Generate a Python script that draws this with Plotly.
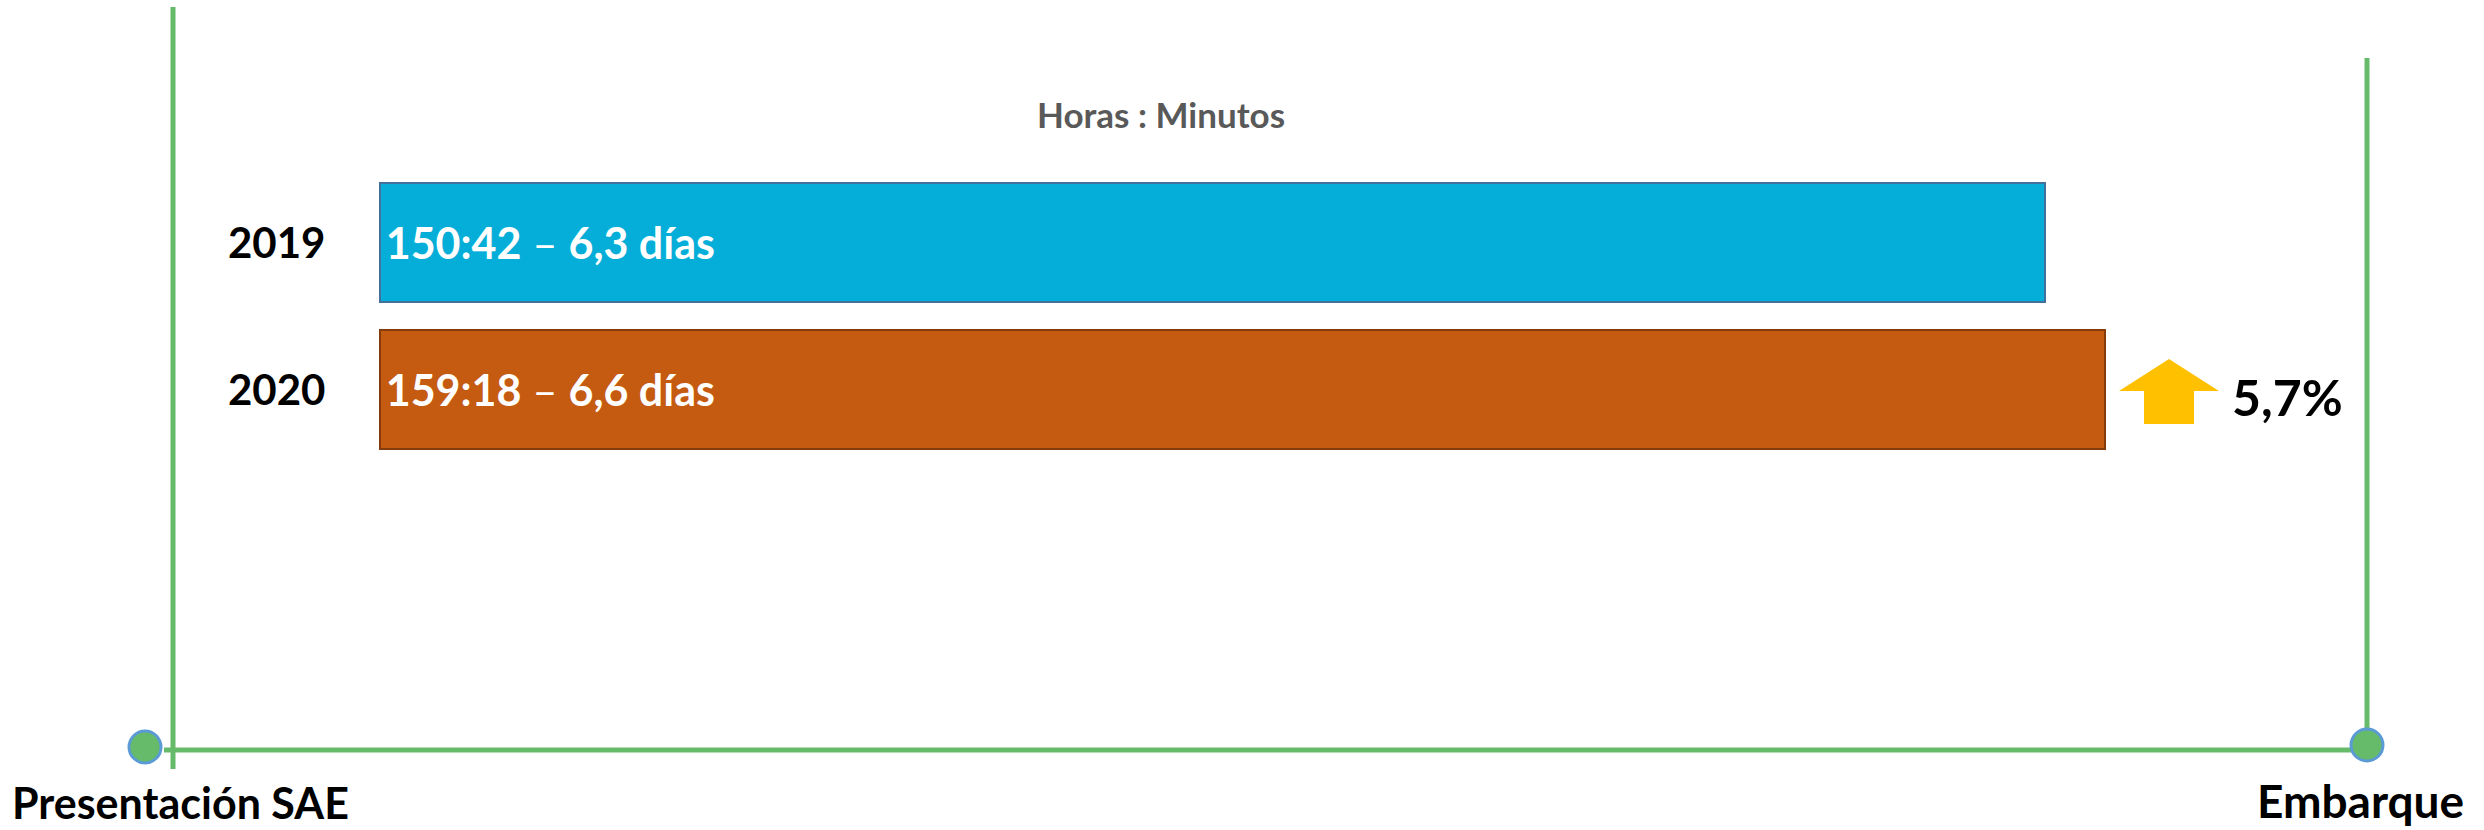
import plotly.graph_objects as go

# data
years = ["2019", "2020"]
hhmm = ["150:42", "159:18"]
days = ["6,3", "6,6"]
bar_colors = ["#05AED8", "#C55A11"]
line_colors = ["#41719C", "#843C0C"]
start_label = "Presentación SAE"
end_label = "Embarque"
unit_label = "Horas : Minutos"

hours = [int(s.split(":")[0]) + int(s.split(":")[1]) / 60 for s in hhmm]
pct = (hours[1] / hours[0] - 1) * 100

W, H = 2484, 830
FONT = "Lato"
GREEN = "#66BB6A"
BASE = -88


def px(x):
    return x / W


def py(y):
    return 1 - y / H


fig = go.Figure()

fig.add_trace(go.Bar(
    y=years, x=[h - BASE for h in hours], base=BASE, orientation="h",
    width=0.81,
    marker=dict(color=bar_colors, line=dict(color=line_colors, width=2)),
    text=["\u200a<b>%s</b> – <b>%s días</b>" % (a, b) for a, b in zip(hhmm, days)],
    textposition="inside", insidetextanchor="start",
    textfont=dict(family=FONT, size=43, color="white"),
    cliponaxis=False, showlegend=False, hoverinfo="skip",
))

# year labels
for i, yr in enumerate(years):
    fig.add_annotation(x=BASE, y=i, xref="x", yref="y", text="<b>%s</b>" % yr,
                       showarrow=False, xanchor="right", xshift=-53,
                       font=dict(family=FONT, size=42, color="black"))

# timeline lines
shapes = [
    dict(type="line", x0=px(173), x1=px(173), y0=py(7), y1=py(769),
         line=dict(color=GREEN, width=5)),
    dict(type="line", x0=px(164), x1=px(2367), y0=py(750), y1=py(750),
         line=dict(color=GREEN, width=5)),
    dict(type="line", x0=px(2367), x1=px(2367), y0=py(58), y1=py(745),
         line=dict(color=GREEN, width=5)),
    dict(type="circle", x0=px(129), x1=px(161), y0=py(731), y1=py(763),
         fillcolor=GREEN, line=dict(color="#5B9BD5", width=3)),
    dict(type="circle", x0=px(2351), x1=px(2383), y0=py(729), y1=py(761),
         fillcolor=GREEN, line=dict(color="#5B9BD5", width=3)),
]

# up arrow
arrow = [(2119, 391), (2169, 359), (2219, 391), (2194, 391),
         (2194, 424), (2144, 424), (2144, 391)]
path = "M " + " L ".join("%f,%f" % (px(a), py(b)) for a, b in arrow) + " Z"
shapes.append(dict(type="path", path=path, xref="paper", yref="paper",
                   fillcolor="#FFC000", line=dict(width=0)))

for s in shapes:
    s.setdefault("xref", "paper")
    s.setdefault("yref", "paper")
    s["layer"] = "below" if s["type"] == "line" else "above"

fig.add_annotation(x=px(2230), y=py(397), xref="paper", yref="paper",
                   text="<b>%s%%</b>" % ("%.1f" % pct).replace(".", ","),
                   showarrow=False, xanchor="left", yanchor="middle",
                   font=dict(family=FONT, size=50, color="black"))

fig.add_annotation(x=px(1161), y=py(114), xref="paper", yref="paper",
                   text="<b>%s</b>" % unit_label, showarrow=False,
                   xanchor="center", yanchor="middle",
                   font=dict(family=FONT, size=35, color="#595959"))

fig.add_annotation(x=px(10), y=py(830), xref="paper", yref="paper",
                   text="<b>%s</b>" % start_label, showarrow=False,
                   xanchor="left", yanchor="bottom",
                   font=dict(family=FONT, size=43, color="black"))
fig.add_annotation(x=px(2466), y=py(830), xref="paper", yref="paper",
                   text="<b>%s</b>" % end_label, showarrow=False,
                   xanchor="right", yanchor="bottom",
                   font=dict(family=FONT, size=46, color="black"))

fig.update_layout(
    width=W, height=H,
    margin=dict(l=0, r=0, t=0, b=0),
    paper_bgcolor="white", plot_bgcolor="white",
    shapes=shapes,
    xaxis=dict(range=[-142.4, 213.6], visible=False, fixedrange=True),
    yaxis=dict(range=[4.0, -1.65], visible=False, type="category"),
    bargap=0,
)

fig.write_html("out.html", config={"displayModeBar": False},
               post_script="document.body.style.margin='0px';")
